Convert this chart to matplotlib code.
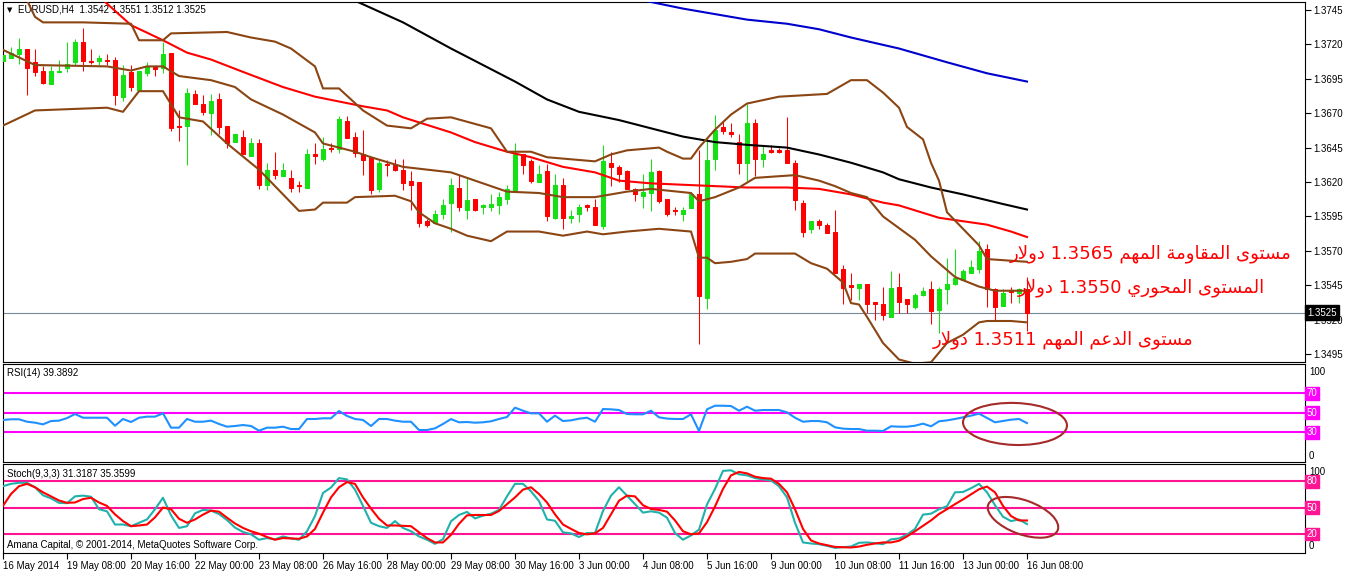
import numpy as np
import matplotlib
matplotlib.use("Agg")
import matplotlib.pyplot as plt
import matplotlib.transforms as mtransforms
from matplotlib.patches import Ellipse
from matplotlib.ticker import FormatStrFormatter

plt.rcParams["font.family"] = ["Liberation Sans", "DejaVu Sans"]

# EURUSD H4, one bar every 4 hours, 16 May 2014 00:00 -> 16 Jun 2014 08:00
opens = [
    1.3708, 1.3710, 1.3713, 1.3717, 1.3707, 1.3701, 1.3691, 1.3700, 1.3703, 1.3707,
    1.3722, 1.3708, 1.3708, 1.3709, 1.3709, 1.3682, 1.3700, 1.3687, 1.3699, 1.3704,
    1.3703, 1.3714, 1.3661, 1.3661, 1.3684, 1.3677, 1.3670, 1.3680, 1.3661, 1.3649,
    1.3653, 1.3639, 1.3648, 1.3618, 1.3629, 1.3624, 1.3623, 1.3618, 1.3616, 1.3640,
    1.3637, 1.3645, 1.3644, 1.3664, 1.3653, 1.3640, 1.3638, 1.3615, 1.3633, 1.3632,
    1.3629, 1.3621, 1.3620, 1.3592, 1.3590, 1.3597, 1.3605, 1.3616, 1.3600, 1.3608,
    1.3602, 1.3602, 1.3603, 1.3608, 1.3614, 1.3640, 1.3635, 1.3620, 1.3628, 1.3594,
    1.3618, 1.3594, 1.3597, 1.3603, 1.3602, 1.3588, 1.3634, 1.3631, 1.3628, 1.3615,
    1.3610, 1.3612, 1.3628, 1.3608, 1.3600, 1.3597, 1.3601, 1.3611, 1.3536, 1.3637,
    1.3660, 1.3656, 1.3649, 1.3634, 1.3663, 1.3637, 1.3643, 1.3643, 1.3643, 1.3634,
    1.3605, 1.3586, 1.3592, 1.3589, 1.3584, 1.3557, 1.3545, 1.3543, 1.3546, 1.3533,
    1.3531, 1.3522, 1.3544, 1.3535, 1.3529, 1.3538, 1.3542, 1.3527, 1.3542, 1.3546,
    1.3549, 1.3554, 1.3557, 1.3571, 1.3542, 1.3530, 1.3541, 1.3539, 1.3542]
highs = [
    1.3714, 1.3718, 1.3725, 1.3717, 1.3717, 1.3704, 1.3704, 1.3709, 1.3722, 1.3724,
    1.3732, 1.3717, 1.3712, 1.3713, 1.3711, 1.3705, 1.3705, 1.3701, 1.3707, 1.3704,
    1.3722, 1.3714, 1.3672, 1.3688, 1.3687, 1.3683, 1.3684, 1.3685, 1.3661, 1.3655,
    1.3658, 1.3652, 1.3651, 1.3634, 1.3642, 1.3634, 1.3629, 1.3621, 1.3644, 1.3648,
    1.3653, 1.3648, 1.3668, 1.3668, 1.3656, 1.3658, 1.3638, 1.3636, 1.3636, 1.3637,
    1.3637, 1.3628, 1.3620, 1.3593, 1.3600, 1.3608, 1.3623, 1.3625, 1.3623, 1.3608,
    1.3604, 1.3611, 1.3613, 1.3618, 1.3648, 1.3640, 1.3637, 1.3632, 1.3633, 1.3626,
    1.3623, 1.3600, 1.3604, 1.3604, 1.3608, 1.3647, 1.3642, 1.3632, 1.3629, 1.3616,
    1.3626, 1.3637, 1.3629, 1.3608, 1.3602, 1.3602, 1.3613, 1.3643, 1.3653, 1.3669,
    1.3664, 1.3663, 1.3655, 1.3677, 1.3666, 1.3647, 1.3647, 1.3645, 1.3667, 1.3636,
    1.3607, 1.3592, 1.3593, 1.3590, 1.3600, 1.3560, 1.3554, 1.3546, 1.3546, 1.3533,
    1.3544, 1.3555, 1.3554, 1.3535, 1.3539, 1.3544, 1.3548, 1.3544, 1.3565, 1.3571,
    1.3557, 1.3563, 1.3577, 1.3575, 1.3543, 1.3542, 1.3544, 1.3543, 1.3551]
lows = [
    1.3706, 1.3710, 1.3706, 1.3683, 1.3697, 1.3691, 1.3691, 1.3700, 1.3700, 1.3705,
    1.3701, 1.3706, 1.3705, 1.3705, 1.3676, 1.3679, 1.3686, 1.3687, 1.3697, 1.3697,
    1.3699, 1.3657, 1.3650, 1.3632, 1.3677, 1.3669, 1.3654, 1.3655, 1.3645, 1.3649,
    1.3640, 1.3639, 1.3615, 1.3614, 1.3622, 1.3624, 1.3613, 1.3613, 1.3616, 1.3633,
    1.3635, 1.3642, 1.3641, 1.3652, 1.3638, 1.3625, 1.3611, 1.3613, 1.3624, 1.3628,
    1.3614, 1.3600, 1.3587, 1.3587, 1.3590, 1.3593, 1.3584, 1.3599, 1.3593, 1.3599,
    1.3597, 1.3599, 1.3597, 1.3604, 1.3614, 1.3626, 1.3619, 1.3620, 1.3592, 1.3593,
    1.3586, 1.3590, 1.3591, 1.3599, 1.3589, 1.3586, 1.3617, 1.3620, 1.3615, 1.3606,
    1.3601, 1.3599, 1.3605, 1.3595, 1.3596, 1.3592, 1.3601, 1.3502, 1.3528, 1.3629,
    1.3655, 1.3653, 1.3626, 1.3621, 1.3624, 1.3631, 1.3641, 1.3641, 1.3634, 1.3600,
    1.3580, 1.3583, 1.3586, 1.3583, 1.3554, 1.3531, 1.3534, 1.3534, 1.3525, 1.3520,
    1.3520, 1.3522, 1.3525, 1.3525, 1.3528, 1.3537, 1.3517, 1.3510, 1.3531, 1.3545,
    1.3549, 1.3554, 1.3554, 1.3529, 1.3519, 1.3530, 1.3532, 1.3532, 1.3512]
closes = [
    1.3712, 1.3714, 1.3717, 1.3703, 1.3700, 1.3692, 1.3701, 1.3701, 1.3706, 1.3722,
    1.3708, 1.3707, 1.3710, 1.3708, 1.3683, 1.3698, 1.3689, 1.3701, 1.3704, 1.3702,
    1.3713, 1.3659, 1.3660, 1.3685, 1.3677, 1.3671, 1.3679, 1.3660, 1.3648, 1.3655,
    1.3640, 1.3648, 1.3618, 1.3629, 1.3625, 1.3629, 1.3616, 1.3617, 1.3640, 1.3639,
    1.3644, 1.3644, 1.3666, 1.3652, 1.3641, 1.3636, 1.3614, 1.3634, 1.3632, 1.3629,
    1.3619, 1.3618, 1.3590, 1.3589, 1.3597, 1.3603, 1.3618, 1.3602, 1.3607, 1.3600,
    1.3603, 1.3604, 1.3609, 1.3615, 1.3640, 1.3632, 1.3621, 1.3626, 1.3595, 1.3618,
    1.3594, 1.3595, 1.3602, 1.3602, 1.3589, 1.3635, 1.3631, 1.3626, 1.3615, 1.3611,
    1.3613, 1.3627, 1.3606, 1.3597, 1.3599, 1.3600, 1.3611, 1.3537, 1.3636, 1.3658,
    1.3657, 1.3655, 1.3634, 1.3663, 1.3637, 1.3640, 1.3642, 1.3642, 1.3634, 1.3607,
    1.3584, 1.3592, 1.3589, 1.3583, 1.3554, 1.3543, 1.3544, 1.3546, 1.3531, 1.3531,
    1.3523, 1.3543, 1.3533, 1.3531, 1.3538, 1.3541, 1.3526, 1.3542, 1.3546, 1.3550,
    1.3555, 1.3558, 1.3570, 1.3542, 1.3529, 1.3539, 1.3540, 1.3542, 1.3525]

# indicator lines (bar index, price)
bb_up_idx = [0, 3, 4, 5, 10, 16, 17, 20, 21, 28, 31, 34, 36, 39, 40, 42, 45, 48, 51, 53,
             56, 61, 63, 66, 68, 74, 76, 78, 82, 83, 85, 86, 87, 89, 91, 93, 97, 103, 106,
             108, 110, 112, 113, 115, 116, 117, 118, 120, 122, 123, 128]
bb_up = [1.3775, 1.3752, 1.3740, 1.3736, 1.3736, 1.3735, 1.3723, 1.3723, 1.3728, 1.3729,
         1.3725, 1.3722, 1.3717, 1.3704, 1.3688, 1.3688, 1.3672, 1.3661, 1.3659, 1.3666,
         1.3667, 1.3659, 1.3642, 1.3642, 1.3638, 1.3635, 1.3640, 1.3643, 1.3645, 1.3642,
         1.3637, 1.3637, 1.3645, 1.3658, 1.3669, 1.3677, 1.3682, 1.3684, 1.3694, 1.3694,
         1.3685, 1.3674, 1.3660, 1.3651, 1.3634, 1.3621, 1.3598, 1.3586, 1.3574, 1.3564,
         1.3562]
bb_mid_idx = [0, 4, 13, 16, 18, 20, 22, 26, 29, 31, 35, 39, 40, 44, 46, 50, 56, 59, 63, 67,
              70, 74, 78, 81, 86, 87, 89, 92, 94, 99, 102, 104, 106, 108, 110, 114, 116,
              119, 122, 124, 128]
bb_mid = [1.3716, 1.3705, 1.3704, 1.3701, 1.3704, 1.3704, 1.3697, 1.3694, 1.3689, 1.3680,
          1.3669, 1.3656, 1.3648, 1.3642, 1.3638, 1.3631, 1.3627, 1.3621, 1.3613, 1.3612,
          1.3609, 1.3609, 1.3613, 1.3615, 1.3612, 1.3606, 1.3609, 1.3616, 1.3623, 1.3625,
          1.3621, 1.3617, 1.3612, 1.3609, 1.3595, 1.3578, 1.3566, 1.3551, 1.3544, 1.3541,
          1.3541]
bb_low_idx = [0, 4, 13, 15, 17, 20, 22, 25, 28, 32, 35, 37, 39, 40, 43, 44, 49, 51, 52, 54,
              56, 58, 61, 63, 67, 70, 73, 75, 78, 82, 86, 87, 88, 89, 91, 93, 94, 99, 101,
              103, 105, 106, 107, 108, 110, 112, 114, 116, 118, 120, 122, 123, 126, 128]
bb_low = [1.3661, 1.3672, 1.3674, 1.3671, 1.3686, 1.3686, 1.3667, 1.3664, 1.3648, 1.3629,
          1.3611, 1.3599, 1.3600, 1.3605, 1.3605, 1.3609, 1.3610, 1.3606, 1.3598, 1.3590,
          1.3586, 1.3581, 1.3577, 1.3584, 1.3584, 1.3581, 1.3584, 1.3582, 1.3584, 1.3586,
          1.3584, 1.3565, 1.3565, 1.3561, 1.3562, 1.3564, 1.3568, 1.3568, 1.3561, 1.3557,
          1.3547, 1.3532, 1.3531, 1.3522, 1.3503, 1.3491, 1.3488, 1.3489, 1.3503, 1.3509,
          1.3518, 1.3519, 1.3519, 1.3518]
ma_red_idx = [11, 16, 20, 23, 26, 30, 35, 39, 45, 48, 50, 56, 59, 63, 66, 70, 74, 77, 81,
              85, 89, 93, 98, 102, 106, 110, 112, 117, 123, 126, 128]
ma_red = [1.3760, 1.3734, 1.3723, 1.3714, 1.3709, 1.3700, 1.3689, 1.3682, 1.3675, 1.3672,
          1.3667, 1.3656, 1.3649, 1.3642, 1.3638, 1.3631, 1.3627, 1.3621, 1.3619, 1.3618,
          1.3617, 1.3616, 1.3616, 1.3615, 1.3611, 1.3605, 1.3603, 1.3594, 1.3589, 1.3584,
          1.3580]
ma_black_idx = [42, 50, 56, 60, 64, 68, 72, 77, 81, 85, 89, 93, 98, 102, 106, 110, 112, 116,
                120, 125, 128]
ma_black = [1.3757, 1.3736, 1.3717, 1.3705, 1.3693, 1.3680, 1.3671, 1.3665, 1.3659, 1.3653,
            1.3649, 1.3647, 1.3645, 1.3640, 1.3634, 1.3627, 1.3622, 1.3616, 1.3611, 1.3604,
            1.3600]
ma_blue_idx = [80, 85, 89, 93, 98, 102, 106, 112, 118, 123, 128]
ma_blue = [1.3752, 1.3746, 1.3742, 1.3738, 1.3735, 1.3731, 1.3725, 1.3717, 1.3707, 1.3699,
           1.3693]

rsi = [
    42.6, 43.3, 43.3, 40.8, 39.8, 38.1, 41.5, 41.9, 44.5, 48.7,
    44.9, 44.9, 44.9, 44.9, 36.7, 43.6, 40.5, 44.9, 46.0, 46.0,
    49.4, 34.7, 34.7, 43.6, 40.8, 40.8, 41.9, 38.5, 35.7, 36.4,
    37.4, 36.4, 31.6, 34.7, 34.7, 35.7, 33.3, 33.3, 43.6, 43.6,
    44.3, 44.3, 51.8, 46.7, 43.6, 42.6, 36.4, 43.6, 43.6, 41.9,
    40.8, 40.8, 32.3, 32.3, 34.0, 38.5, 43.5, 40.2, 40.5, 39.8,
    40.2, 41.2, 43.6, 45.6, 55.2, 52.1, 49.4, 49.4, 40.8, 47.0,
    41.5, 42.2, 43.9, 44.9, 40.8, 53.8, 53.5, 52.8, 48.7, 48.4,
    48.4, 52.1, 45.3, 44.0, 43.6, 43.6, 48.4, 31.3, 53.5, 57.2,
    57.2, 56.9, 52.1, 56.2, 52.1, 52.8, 52.8, 52.8, 50.4, 44.9,
    40.8, 41.5, 41.5, 40.2, 35.1, 33.7, 33.3, 33.3, 31.6, 31.6,
    31.3, 36.1, 35.7, 35.7, 36.7, 38.8, 36.1, 41.2, 42.2, 43.6,
    45.3, 47.0, 49.1, 44.6, 40.2, 41.5, 42.9, 43.6, 39.4]
stoch_k = [
    74.6, 77.3, 78.5, 78.5, 73.4, 64.2, 60.7, 55.6, 55.2, 63.0,
    63.8, 62.6, 48.3, 45.9, 30.8, 30.8, 28.9, 32.8, 36.6, 48.3,
    61.4, 41.3, 26.9, 28.9, 43.6, 47.5, 46.7, 42.8, 35.9, 27.3,
    22.3, 19.6, 13.4, 15.3, 13.8, 17.2, 14.9, 13.4, 23.1, 40.5,
    66.9, 73.1, 83.9, 82.4, 70.7, 52.1, 32.8, 28.9, 26.9, 34.7,
    26.9, 23.1, 17.2, 13.4, 8.7, 14.1, 34.5, 41.7, 45.2, 37.8,
    40.9, 43.2, 47.5, 63.0, 77.3, 77.3, 68.8, 57.6, 36.6, 35.1,
    21.9, 20.7, 16.5, 21.1, 21.1, 46.3, 63.8, 73.4, 63.8, 54.1,
    44.4, 45.9, 44.4, 38.6, 21.1, 13.4, 18.4, 25.0, 53.7, 71.5,
    92.1, 92.8, 88.2, 87.0, 83.9, 82.4, 81.2, 74.6, 61.8, 32.8,
    10.3, 9.1, 8.3, 6.4, 4.1, 4.8, 5.6, 9.9, 10.3, 9.5,
    8.3, 13.8, 14.9, 19.2, 25.8, 42.1, 43.2, 48.3, 51.7, 67.6,
    68.0, 72.3, 77.3, 67.6, 52.9, 39.7, 34.7, 36.6, 31.3]
stoch_d = [
    52.1, 65.7, 74.6, 77.3, 73.4, 67.6, 63.0, 58.3, 55.6, 56.0,
    59.9, 61.4, 56.0, 52.1, 42.4, 34.7, 28.9, 29.7, 30.8, 39.0,
    50.2, 48.3, 37.4, 32.8, 36.6, 42.1, 46.7, 45.5, 38.6, 32.0,
    26.9, 23.1, 20.3, 16.5, 13.4, 15.3, 14.9, 14.5, 17.2, 25.8,
    44.4, 61.8, 73.4, 79.3, 77.3, 61.8, 49.0, 37.4, 29.7, 29.7,
    29.3, 28.9, 21.9, 15.3, 10.3, 10.3, 19.0, 31.6, 41.3, 41.7,
    41.7, 41.7, 46.3, 54.1, 61.8, 70.7, 73.4, 65.7, 56.0, 42.4,
    30.8, 25.8, 21.1, 19.6, 20.7, 26.9, 42.4, 58.0, 63.8, 63.0,
    52.9, 48.6, 47.5, 45.5, 35.5, 23.1, 19.6, 20.7, 33.5, 51.4,
    71.5, 87.0, 90.9, 89.3, 85.5, 83.9, 83.2, 77.3, 67.6, 48.3,
    25.8, 12.6, 9.1, 7.2, 5.2, 4.8, 4.5, 5.6, 7.6, 9.1,
    10.3, 10.3, 12.2, 17.2, 23.1, 29.3, 35.5, 42.8, 48.3, 54.1,
    59.5, 65.3, 71.1, 74.2, 67.6, 52.1, 40.5, 35.5, 35.4]

date_idx = list(range(0, 129, 8))
date_labels = ["16 May 2014", "19 May 08:00", "20 May 16:00", "22 May 00:00", "23 May 08:00",
               "26 May 16:00", "28 May 00:00", "29 May 08:00", "30 May 16:00", "3 Jun 00:00",
               "4 Jun 08:00", "5 Jun 16:00", "9 Jun 00:00", "10 Jun 08:00", "11 Jun 16:00",
               "13 Jun 00:00", "16 Jun 08:00"]
price_ticks = [1.3495, 1.3520, 1.3545, 1.3570, 1.3595, 1.3620, 1.3645, 1.3670, 1.3695, 1.3720, 1.3745]
last_price = 1.3525
rsi_levels = [70, 50, 30]
stoch_levels = [80, 50, 20]

notes = ["مستوى المقاومة المهم 1.3565 دولار",
         "المستوى المحوري 1.3550 دولار",
         "مستوى الدعم المهم 1.3511 دولار"]

GREEN = "#14E014"
RED = "#FF0000"
BROWN = "#8B4513"


# --- tiny arabic shaper, matplotlib has no bidi / joining support ---
AR_FORMS = {  # isolated, final, initial, medial
    "ا": ("\uFE8D", "\uFE8E", None, None),
    "ت": ("\uFE95", "\uFE96", "\uFE97", "\uFE98"),
    "ة": ("\uFE93", "\uFE94", None, None),
    "ح": ("\uFEA1", "\uFEA2", "\uFEA3", "\uFEA4"),
    "د": ("\uFEA9", "\uFEAA", None, None),
    "ر": ("\uFEAD", "\uFEAE", None, None),
    "س": ("\uFEB1", "\uFEB2", "\uFEB3", "\uFEB4"),
    "ع": ("\uFEC9", "\uFECA", "\uFECB", "\uFECC"),
    "ق": ("\uFED5", "\uFED6", "\uFED7", "\uFED8"),
    "ل": ("\uFEDD", "\uFEDE", "\uFEDF", "\uFEE0"),
    "م": ("\uFEE1", "\uFEE2", "\uFEE3", "\uFEE4"),
    "ه": ("\uFEE9", "\uFEEA", "\uFEEB", "\uFEEC"),
    "و": ("\uFEED", "\uFEEE", None, None),
    "ى": ("\uFEEF", "\uFEF0", None, None),
    "ي": ("\uFEF1", "\uFEF2", "\uFEF3", "\uFEF4"),
}
LAM_ALEF = ("\uFEFB", "\uFEFC")


def joins_forward(c):
    return c != "LA" and AR_FORMS[c][2] is not None


def shape_word(word):
    letters = []
    k = 0
    while k < len(word):
        if word[k] == "ل" and k + 1 < len(word) and word[k + 1] == "ا":
            letters.append("LA")
            k += 2
        else:
            letters.append(word[k])
            k += 1
    out = []
    for j, ch in enumerate(letters):
        jp = j > 0 and joins_forward(letters[j - 1])
        if ch == "LA":
            out.append(LAM_ALEF[1] if jp else LAM_ALEF[0])
            continue
        f = AR_FORMS[ch]
        jn = j + 1 < len(letters) and f[2] is not None
        if jp and jn:
            out.append(f[3])
        elif jp:
            out.append(f[1])
        elif jn:
            out.append(f[2])
        else:
            out.append(f[0])
    return "".join(reversed(out))


def visual_rtl(text):
    toks = []
    for t in reversed(text.split(" ")):
        toks.append(shape_word(t) if t[0] in AR_FORMS else t)
    return " ".join(toks)


### Figure
W, H = 1346, 571
fig = plt.figure(figsize=(W / 100, H / 100), dpi=100, facecolor="white")


def px_axes(x0, y0, x1, y1):
    return fig.add_axes([x0 / W, 1 - y1 / H, (x1 - x0) / W, (y1 - y0) / H])


ax = px_axes(3, 2, 1305, 362)
ax_rsi = px_axes(3, 364, 1305, 461.5)
ax_st = px_axes(3, 464, 1305, 552.5)

for a in (ax, ax_rsi, ax_st):
    a.set_xlim(0, 162.75)
    for s in a.spines.values():
        s.set_linewidth(0.8)
        s.set_color("black")
    a.tick_params(axis="y", length=0)

#### Price panel
o, h, l, c = map(np.array, (opens, highs, lows, closes))
bars = np.arange(len(o))
cols = np.where(c > o, GREEN, RED)
ax.axhline(last_price, color="#778899", lw=0.8, zorder=1)
ax.vlines(bars, l, h, colors=cols, lw=0.75, zorder=2)
ax.bar(bars, np.abs(c - o), bottom=np.minimum(o, c), width=0.42, color=cols,
       edgecolor=cols, linewidth=0.75, zorder=3)

ax.plot(ma_blue_idx, ma_blue, color="#0000CD", lw=1.5, zorder=4)
ax.plot(ma_black_idx, ma_black, color="black", lw=1.5, zorder=4)
ax.plot(ma_red_idx, ma_red, color=RED, lw=1.5, zorder=4)
ax.plot(bb_up_idx, bb_up, color=BROWN, lw=1.5, zorder=4)
ax.plot(bb_mid_idx, bb_mid, color=BROWN, lw=1.5, zorder=4)
ax.plot(bb_low_idx, bb_low, color=BROWN, lw=1.5, zorder=4)

ax.set_ylim(1.34892, 1.37508)
ax.set_xticks([])
ax.yaxis.tick_right()
ax.set_yticks(price_ticks)
ax.yaxis.set_major_formatter(FormatStrFormatter("%.4f"))
ax.tick_params(axis="y", length=4, width=0.8, pad=2, labelsize=7)

blend = mtransforms.blended_transform_factory(ax.transAxes, ax.transData)
ax.text(1.0015, last_price, f"{last_price:.4f}", transform=blend, ha="left", va="center",
        fontsize=7, color="white", zorder=10, clip_on=False,
        bbox=dict(boxstyle="square,pad=0.25", fc="black", ec="black"))

ax.text(0.0055, 0.978, "\u25BC", transform=ax.transAxes, fontsize=5, va="center", ha="center",
        family=["DejaVu Sans"])
ax.text(0.0115, 0.978, "EURUSD,H4  1.3542 1.3551 1.3512 1.3525", transform=ax.transAxes,
        fontsize=7, va="center")

note_pos = [(0.990, 0.300), (0.969, 0.205), (0.914, 0.061)]
for txt, (xf, yf) in zip(notes, note_pos):
    ax.text(xf, yf, visual_rtl(txt), transform=ax.transAxes, ha="right", va="center",
            fontsize=13, color=RED, family=["DejaVu Sans"], zorder=6)

#### RSI panel
ax_rsi.plot(bars, rsi, color="#1E90FF", lw=1.5, zorder=3)
for lv in rsi_levels:
    ax_rsi.axhline(lv, color="#FF00FF", lw=1.5, zorder=2)
    ax_rsi.text(1.0015, lv, str(lv), transform=mtransforms.blended_transform_factory(
        ax_rsi.transAxes, ax_rsi.transData), ha="left", va="center", fontsize=7,
        color="white", clip_on=False,
        bbox=dict(boxstyle="square,pad=0.15", fc="#FF00FF", ec="#FF00FF"))
ax_rsi.set_ylim(0, 100)
ax_rsi.set_xticks([])
ax_rsi.set_yticks([])
ax_rsi.text(1.003, 0.92, "100", transform=ax_rsi.transAxes, fontsize=7, va="center")
ax_rsi.text(1.003, 0.056, "0", transform=ax_rsi.transAxes, fontsize=7, va="center")
ax_rsi.text(0.003, 0.908, "RSI(14) 39.3892", transform=ax_rsi.transAxes, fontsize=7,
            va="center")

#### Stochastic panel
ax_st.plot(bars, stoch_k, color="#20B2AA", lw=1.5, zorder=3)
ax_st.plot(bars, stoch_d, color=RED, lw=1.5, zorder=4)
for lv in stoch_levels:
    ax_st.axhline(lv, color="#FF1493", lw=1.5, zorder=2)
    ax_st.text(1.0015, lv, str(lv), transform=mtransforms.blended_transform_factory(
        ax_st.transAxes, ax_st.transData), ha="left", va="center", fontsize=7,
        color="white", clip_on=False,
        bbox=dict(boxstyle="square,pad=0.15", fc="#FF1493", ec="#FF1493"))
ax_st.set_ylim(-1.2, 100)
ax_st.set_yticks([])
ax_st.text(1.003, 0.913, "100", transform=ax_st.transAxes, fontsize=7, va="center")
ax_st.text(1.003, 0.073, "0", transform=ax_st.transAxes, fontsize=7, va="center")
ax_st.text(0.003, 0.887, "Stoch(9,3,3) 31.3187 35.3599", transform=ax_st.transAxes,
           fontsize=7, va="center")
ax_st.text(0.003, 0.085, "Amana Capital, \u00A9 2001-2014, MetaQuotes Software Corp.",
           transform=ax_st.transAxes, fontsize=7, va="center", zorder=6)

ax_st.set_xticks(date_idx)
ax_st.set_xticklabels(date_labels, ha="left", fontsize=7)
ax_st.tick_params(axis="x", length=4, width=0.8, pad=2)


# hand-drawn rings around the last RSI / Stoch swing
def ring(axis, xc, yc, w_px, h_px, ang):
    tr = fig.dpi_scale_trans + mtransforms.ScaledTranslation(xc, yc, axis.transData)
    axis.add_patch(Ellipse((0, 0), w_px / 100, h_px / 100, angle=ang, transform=tr,
                           fill=False, ec="#A52A2A", lw=1.5, zorder=6, clip_on=False))


ring(ax_rsi, 126.5, 38.5, 104, 42, -2)
ring(ax_st, 127.5, 39, 74, 34, -20)

fig.savefig("out.png", dpi=100, facecolor="white")
